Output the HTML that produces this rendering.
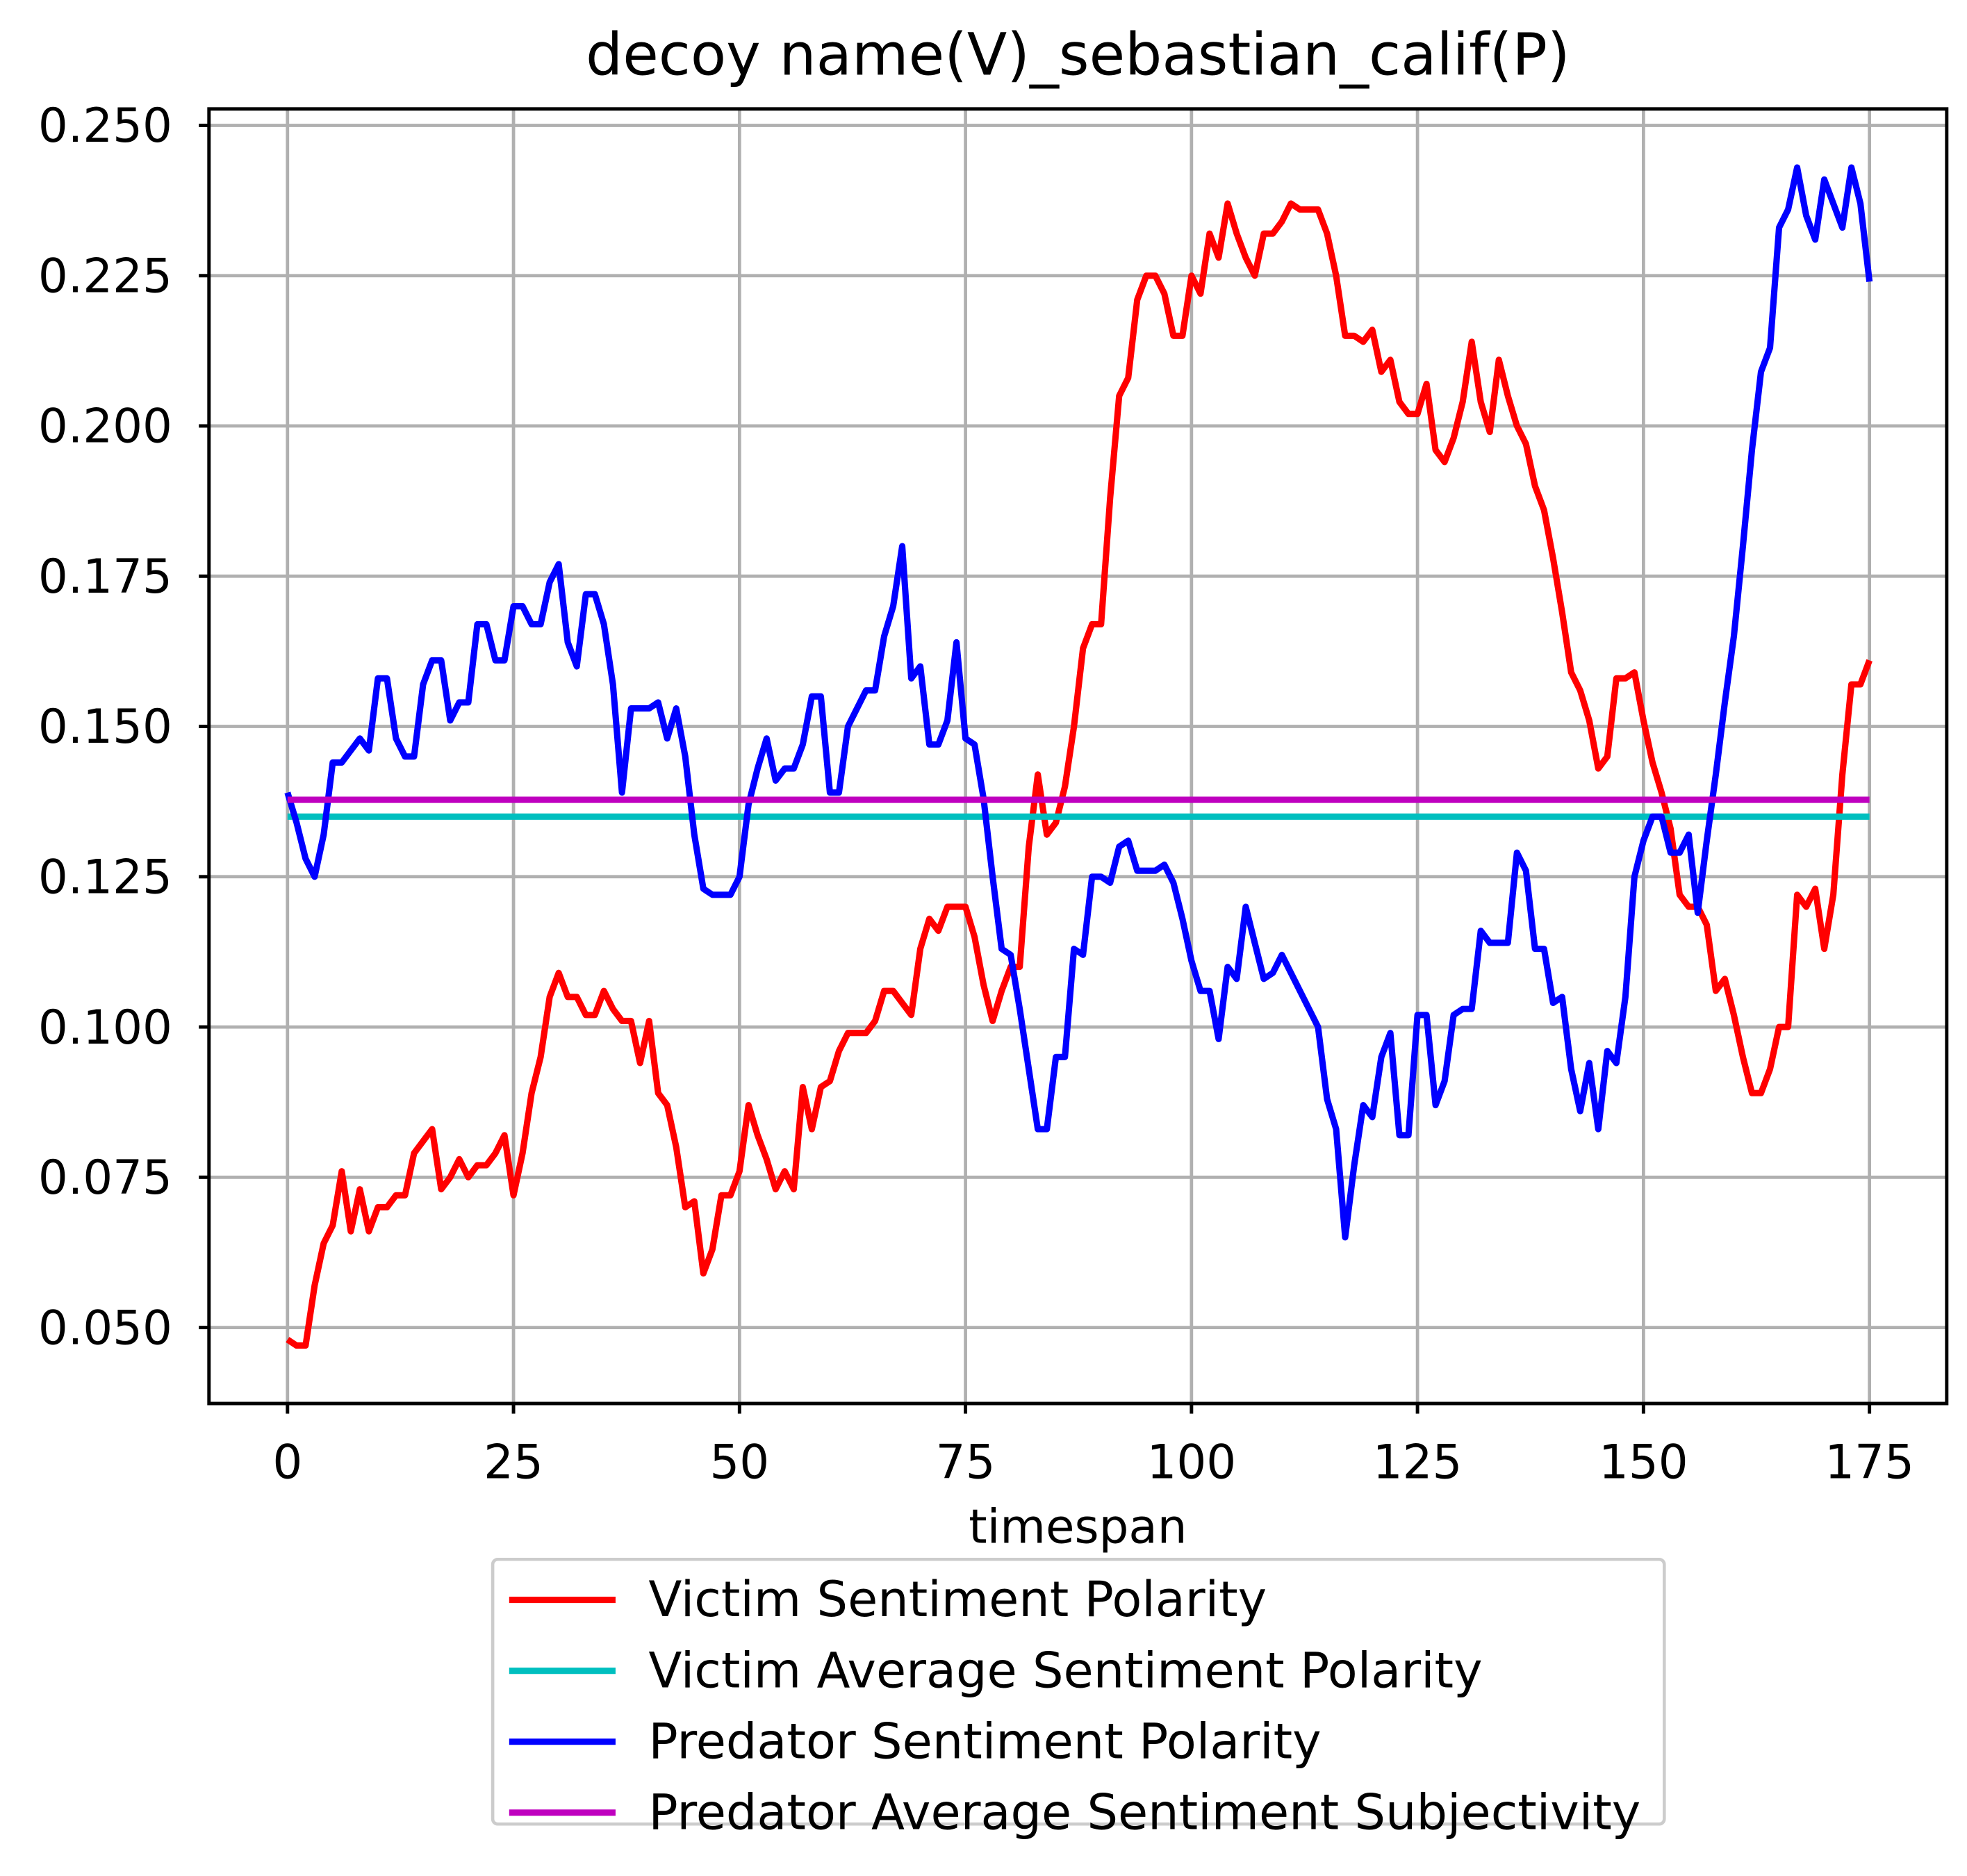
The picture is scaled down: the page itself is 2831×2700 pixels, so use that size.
<!DOCTYPE html>
<html><head><meta charset="utf-8"><style>html,body{margin:0;padding:0;background:#fff;width:2831px;height:2700px;overflow:hidden}svg{display:block}</style></head>
<body>
<svg id="chart" width="2831" height="2700" xmlns="http://www.w3.org/2000/svg">
<rect width="2831" height="2700" fill="#fff"/>
<g transform="scale(1.82292,1.82309)" font-family="'DejaVu Sans','Liberation Sans',sans-serif">
<g id="grid"></g>
<g id="series"></g>
<rect x="165" y="86" width="1372" height="1022" fill="none" stroke="#000" stroke-width="2.7"/>
<g id="ticks" style="font-size:37px" fill="#000"></g>
<text x="851" y="59" style="font-size:46px" text-anchor="middle">decoy name(V)_sebastian_calif(P)</text>
<text x="851" y="1218" style="font-size:37px" text-anchor="middle">timespan</text>
<g style="font-size:38.5px">
<rect x="389" y="1231" width="925" height="209" rx="4" fill="#fff" stroke="#ccc" stroke-width="2.5"/>
<g><line x1="402" y1="1263" x2="486" y2="1263" stroke="#f00" stroke-width="5"/><text x="512" y="1276">Victim Sentiment Polarity</text></g>
<g><line x1="402" y1="1319" x2="486" y2="1319" stroke="#00bfbf" stroke-width="5"/><text x="512" y="1332">Victim Average Sentiment Polarity</text></g>
<g><line x1="402" y1="1375" x2="486" y2="1375" stroke="#00f" stroke-width="5"/><text x="512" y="1388">Predator Sentiment Polarity</text></g>
<g><line x1="402" y1="1431" x2="486" y2="1431" stroke="#bf00bf" stroke-width="5"/><text x="512" y="1444">Predator Average Sentiment Subjectivity</text></g>
</g>
</g>
</svg>
<script>
const xTicks=[0,25,50,75,100,125,150,175];
const yTicks=[0.050,0.075,0.100,0.125,0.150,0.175,0.200,0.225,0.250];
const victimPolarity=[0.048,0.047,0.047,0.057,0.064,0.067,0.076,0.066,0.073,0.066,0.070,0.070,0.072,0.072,0.079,0.081,0.083,0.073,0.075,0.078,0.075,0.077,0.077,0.079,0.082,0.072,0.079,0.089,0.095,0.105,0.109,0.105,0.105,0.102,0.102,0.106,0.103,0.101,0.101,0.094,0.101,0.089,0.087,0.080,0.070,0.071,0.059,0.063,0.072,0.072,0.076,0.087,0.082,0.078,0.073,0.076,0.073,0.090,0.083,0.090,0.091,0.096,0.099,0.099,0.099,0.101,0.106,0.106,0.104,0.102,0.113,0.118,0.116,0.120,0.120,0.120,0.115,0.107,0.101,0.106,0.110,0.110,0.130,0.142,0.132,0.134,0.140,0.150,0.163,0.167,0.167,0.188,0.205,0.208,0.221,0.225,0.225,0.222,0.215,0.215,0.225,0.222,0.232,0.228,0.237,0.232,0.228,0.225,0.232,0.232,0.234,0.237,0.236,0.236,0.236,0.232,0.225,0.215,0.215,0.214,0.216,0.209,0.211,0.204,0.202,0.202,0.207,0.196,0.194,0.198,0.204,0.214,0.204,0.199,0.211,0.205,0.200,0.197,0.190,0.186,0.178,0.169,0.159,0.156,0.151,0.143,0.145,0.158,0.158,0.159,0.151,0.144,0.139,0.133,0.122,0.120,0.120,0.117,0.106,0.108,0.102,0.095,0.089,0.089,0.093,0.100,0.100,0.122,0.120,0.123,0.113,0.122,0.142,0.157,0.157,0.161];
const predatorPolarity=[0.139,0.134,0.128,0.125,0.132,0.144,0.144,0.146,0.148,0.146,0.158,0.158,0.148,0.145,0.145,0.157,0.161,0.161,0.151,0.154,0.154,0.167,0.167,0.161,0.161,0.170,0.170,0.167,0.167,0.174,0.177,0.164,0.160,0.172,0.172,0.167,0.157,0.139,0.153,0.153,0.153,0.154,0.148,0.153,0.145,0.132,0.123,0.122,0.122,0.122,0.125,0.137,0.143,0.148,0.141,0.143,0.143,0.147,0.155,0.155,0.139,0.139,0.150,0.153,0.156,0.156,0.165,0.170,0.180,0.158,0.160,0.147,0.147,0.151,0.164,0.148,0.147,0.138,0.125,0.113,0.112,0.103,0.093,0.083,0.083,0.095,0.095,0.113,0.112,0.125,0.125,0.124,0.130,0.131,0.126,0.126,0.126,0.127,0.124,0.118,0.111,0.106,0.106,0.098,0.110,0.108,0.120,0.114,0.108,0.109,0.112,0.109,0.106,0.103,0.100,0.088,0.083,0.065,0.077,0.087,0.085,0.095,0.099,0.082,0.082,0.102,0.102,0.087,0.091,0.102,0.103,0.103,0.116,0.114,0.114,0.114,0.129,0.126,0.113,0.113,0.104,0.105,0.093,0.086,0.094,0.083,0.096,0.094,0.105,0.125,0.131,0.135,0.135,0.129,0.129,0.132,0.119,0.131,0.142,0.154,0.165,0.180,0.196,0.209,0.213,0.233,0.236,0.243,0.235,0.231,0.241,0.237,0.233,0.243,0.237,0.224];
const victimAverage=[0.135];
const predatorSubjectivity=[0.1378];

const NS="http://www.w3.org/2000/svg";
function xs(v){return 227+(v/175)*(1476-227);}
function ys(v){return 1048-(v-0.05)/0.2*(1048-99);}
function mk(tag,attrs,parent){const e=document.createElementNS(NS,tag);for(const k in attrs)e.setAttribute(k,attrs[k]);parent.appendChild(e);return e;}
const grid=document.getElementById('grid'),ticks=document.getElementById('ticks'),ser=document.getElementById('series');
xTicks.forEach(t=>{
  const g=mk('line',{x1:xs(t),x2:xs(t),y1:86,y2:1108,stroke:'#b0b0b0','stroke-width':2.6},grid);
  
  
  mk('line',{x1:xs(t),x2:xs(t),y1:1108,y2:1116,stroke:'#000','stroke-width':2.7},ticks);
  const tx=mk('text',{x:xs(t),y:1167,'text-anchor':'middle'},ticks);tx.textContent=t;
  
  
});
yTicks.forEach(t=>{
  const g=mk('line',{x1:165,x2:1537,y1:ys(t),y2:ys(t),stroke:'#b0b0b0','stroke-width':2.6},grid);
  
  
  mk('line',{x1:157,x2:165,y1:ys(t),y2:ys(t),stroke:'#000','stroke-width':2.7},ticks);
  const tx=mk('text',{x:136,y:ys(t)+13,'text-anchor':'end'},ticks);tx.textContent=t.toFixed(3);
  
  
});
function line(arr,color,name){
  const pts=arr.map((v,i)=>xs(i).toFixed(2)+','+ys(v).toFixed(2)).join(' ');
  const p=mk('polyline',{points:pts,fill:'none',stroke:color,'stroke-width':5,'stroke-linejoin':'round'},ser);
  
  
}
function hline(v,color,name){
  const p=mk('line',{x1:xs(0),x2:xs(175),y1:ys(v),y2:ys(v),stroke:color,'stroke-width':5},ser);
  
  
}
line(victimPolarity,'#f00','victim-polarity-line');
hline(victimAverage[0],'#00bfbf','victim-average-line');
line(predatorPolarity,'#00f','predator-polarity-line');
hline(predatorSubjectivity[0],'#bf00bf','predator-subjectivity-line');
</script>
</body></html>
